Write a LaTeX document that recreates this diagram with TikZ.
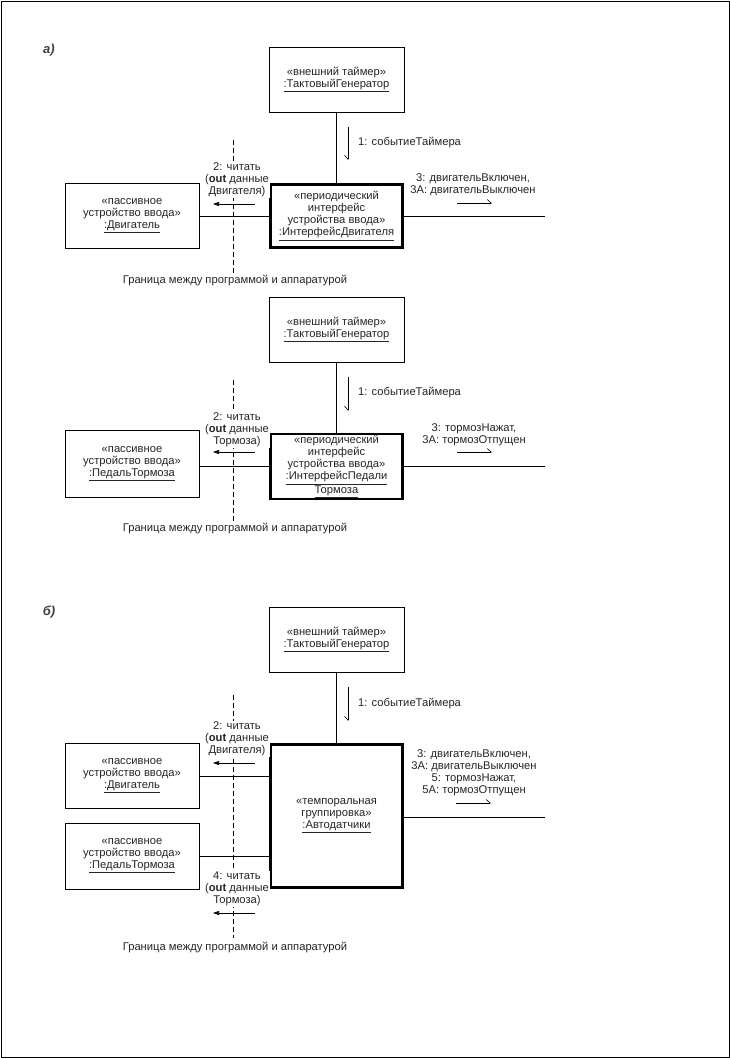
\documentclass[tikz,border=0pt]{standalone}
\usepackage{fontspec}
\setmainfont{Liberation Sans}
\usetikzlibrary{arrows.meta}
\newcommand\fsz{\fontsize{11.2}{12}\selectfont}
\begin{document}
\begin{tikzpicture}[x=1pt,y=-1pt,
  every node/.style={font=\fsz, inner sep=0pt, text=black!85},
  obj/.style={draw, line width=0.7pt, minimum width=135pt, minimum height=65pt, align=center},
  act/.style={obj, line width=2.8pt, minimum width=132pt},
  lbl/.style={align=center, fill=white, inner sep=1pt},
  conn/.style={line width=0.7pt},
  dashln/.style={line width=0.6pt, dash pattern=on 5pt off 3pt},
  sync/.style={line width=0.6pt, -{Triangle[length=6pt,width=4pt]}},
  asyncL/.style={line width=0.6pt, -{Straight Barb[harpoon,length=4pt,width=7pt]}},
  asyncR/.style={line width=0.6pt, -{Straight Barb[harpoon,swap,length=4pt,width=7pt]}},
  sec/.style={font=\fontsize{13}{14}\selectfont\bfseries\itshape, text=black!75}
]
\useasboundingbox (0,0) rectangle (730,1059);
\fill[white] (0,0) rectangle (730,1059);
\draw[line width=1pt] (1,2) rectangle (729,1057);

% ---------- a) part 1 ----------
\node[sec] (la) at (49,50) {а)};
\node[obj] (t1) at (336.5,79.5) {«внешний таймер»\\\underline{:ТактовыйГенератор}};
\node[act, minimum height=63pt] (i1) at (336.5,216) {«периодический\\интерфейс\\устройства ввода»\\\underline{:ИнтерфейсДвигателя}};
\node[obj, minimum width=134pt] (d1) at (132,216) {«пассивное\\устройство ввода»\\\underline{:Двигатель}};
\coordinate (bt1) at (233,140); \coordinate (bb1) at (233,275);
\draw[dashln] (bt1) -- (bb1);
\draw[conn] (t1) -- (i1);
\draw[conn] (d1.east) -- (d1.east -| i1.west);
\coordinate (r1) at (545,216);
\draw[conn] (i1.east) -- (r1);
\node (bl1) at (235,281) {Граница между программой и аппаратурой};
\node[lbl] (m21) at (237,180) {2: читать\\(\textbf{out} данные\\Двигателя)};
\coordinate (a21s) at (255,204); \coordinate (a21e) at (213,204);
\draw[sync] (a21s) -- (a21e);
\coordinate (e11s) at (348,127); \coordinate (e11e) at (348,160);
\draw[asyncR] (e11s) -- (e11e);
\node[anchor=west] (m11) at (358,143) {1: событиеТаймера};
\node[lbl] (m31) at (473,185) {3: двигательВключен,\\3A: двигательВыключен};
\coordinate (a31s) at (457,203); \coordinate (a31e) at (492,203);
\draw[asyncL] (a31s) -- (a31e);

% ---------- a) part 2 ----------
\node[obj] (t2) at (336.5,329.5) {«внешний таймер»\\\underline{:ТактовыйГенератор}};
\node[act, minimum height=65pt] (i2) at (336.5,466.5) {«периодический\\интерфейс\\устройства ввода»\\\underline{:ИнтерфейсПедали}\\\underline{Тормоза}};
\node[obj, minimum width=134pt, minimum height=67pt] (d2) at (132,464) {«пассивное\\устройство ввода»\\\underline{:ПедальТормоза}};
\coordinate (bt2) at (233,380); \coordinate (bb2) at (233,523);
\draw[dashln] (bt2) -- (bb2);
\draw[conn] (t2) -- (i2);
\draw[conn] (d2.east |- i2.west) -- (i2.west);
\coordinate (r2) at (545,466.5);
\draw[conn] (i2.east) -- (r2);
\node (bl2) at (235,529) {Граница между программой и аппаратурой};
\node[lbl] (m22) at (237,430) {2: читать\\(\textbf{out} данные\\Тормоза)};
\coordinate (a22s) at (255,452); \coordinate (a22e) at (213,452);
\draw[sync] (a22s) -- (a22e);
\coordinate (e12s) at (348,377); \coordinate (e12e) at (348,411);
\draw[asyncR] (e12s) -- (e12e);
\node[anchor=west] (m12) at (358,393) {1: событиеТаймера};
\node[lbl] (m32) at (474,435) {3: тормозНажат,\\3A: тормозОтпущен};
\coordinate (a32s) at (457,452); \coordinate (a32e) at (492,452);
\draw[asyncL] (a32s) -- (a32e);

% ---------- б) ----------
\node[sec] (lb) at (49,612) {б)};
\node[obj] (t3) at (336.5,639.5) {«внешний таймер»\\\underline{:ТактовыйГенератор}};
\node[act, minimum height=143pt] (g3) at (336.5,816) {«темпоральная\\группировка»\\\underline{:Автодатчики}};
\node[obj, minimum width=134pt] (d3) at (132,776) {«пассивное\\устройство ввода»\\\underline{:Двигатель}};
\node[obj, minimum width=134pt, minimum height=66pt] (p3) at (132,856) {«пассивное\\устройство ввода»\\\underline{:ПедальТормоза}};
\coordinate (bt3) at (233,695); \coordinate (bb3) at (233,938);
\draw[dashln] (bt3) -- (bb3);
\draw[conn] (t3) -- (g3);
\draw[conn] (d3.east) -- (d3.east -| g3.west);
\draw[conn] (p3.east) -- (p3.east -| g3.west);
\coordinate (r3) at (545,817);
\draw[conn] (g3.east |- r3) -- (r3);
\node (bl3) at (235,947) {Граница между программой и аппаратурой};
\node[lbl] (m23) at (237,739) {2: читать\\(\textbf{out} данные\\Двигателя)};
\coordinate (a23s) at (255,763); \coordinate (a23e) at (213,763);
\draw[sync] (a23s) -- (a23e);
\node[lbl] (m43) at (237,889) {4: читать\\(\textbf{out} данные\\Тормоза)};
\coordinate (a43s) at (255,913); \coordinate (a43e) at (213,913);
\draw[sync] (a43s) -- (a43e);
\coordinate (e13s) at (348,687); \coordinate (e13e) at (348,721);
\draw[asyncR] (e13s) -- (e13e);
\node[anchor=west] (m13) at (358,703) {1: событиеТаймера};
\node[lbl] (m33) at (474,772.5) {3: двигательВключен,\\3A: двигательВыключен\\5: тормозНажат,\\5A: тормозОтпущен};
\coordinate (a33s) at (456,803); \coordinate (a33e) at (491,803);
\draw[asyncL] (a33s) -- (a33e);
\end{tikzpicture}
\end{document}
